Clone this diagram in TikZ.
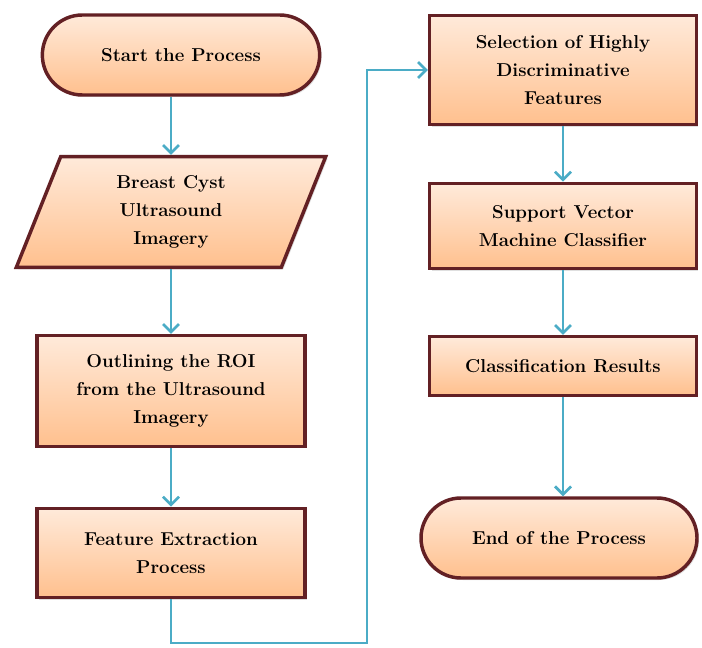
\documentclass[tikz,border=0pt]{standalone}
\usepackage{tikz}
\usetikzlibrary{arrows.meta,positioning,shapes.misc,shapes.geometric,shadows}
\definecolor{boxborder}{RGB}{99,32,36}
\definecolor{peachtop}{RGB}{255,234,218}
\definecolor{peachbot}{RGB}{255,192,142}
\definecolor{flowblue}{RGB}{75,172,198}
\tikzset{
	procbox/.style={draw=boxborder, line width=2.6pt, top color=peachtop, bottom color=peachbot, align=center, inner sep=4pt, font=\bfseries\fontsize{14}{21}\selectfont, drop shadow={opacity=0.25, shadow xshift=1.5pt, shadow yshift=-1.5pt}},
	termbox/.style={procbox, rounded rectangle},
	databox/.style={procbox, trapezium, trapezium left angle=62, trapezium right angle=118, trapezium stretches body},
	arrow/.style={-{Straight Barb[length=6pt, width=12pt]}, draw=flowblue, line width=2pt}
}
\begin{document}
\begin{tikzpicture}[x=0.75pt, y=-0.75pt]
	\useasboundingbox (0,0) rectangle (702,648);
	% left column
	\node[termbox, minimum width=216pt, minimum height=60pt] (start) at (181,55) {Start the Process};
	\node[databox, minimum width=232pt, minimum height=83pt] (cyst) at (171,212) {Breast Cyst\\Ultrasound\\Imagery};
	\node[procbox, minimum width=201pt, minimum height=83pt] (roi) at (171,391) {Outlining the ROI\\from the Ultrasound\\Imagery};
	\node[procbox, minimum width=201pt, minimum height=67pt] (feat) at (171,553) {Feature Extraction\\Process};
	% right column
	\node[procbox, minimum width=200pt, minimum height=82pt] (select) at (563,70) {Selection of Highly\\Discriminative\\Features};
	\node[procbox, minimum width=200pt, minimum height=64pt] (svm) at (563,226) {Support Vector\\Machine Classifier};
	\node[procbox, minimum width=200pt, minimum height=44pt] (result) at (563,366) {Classification Results};
	\node[termbox, minimum width=215pt, minimum height=60pt] (finish) at (559,538) {End of the Process};
	\coordinate (bend) at (367,643);
	
	\draw[arrow] (cyst.north |- start.south) -- (cyst.north);
	\draw[arrow] (cyst.south) -- (roi.north -| cyst.south);
	\draw[arrow] (roi) -- (feat);
	\draw[arrow] (feat.south) |- (bend) |- (select.west);
	\draw[arrow] (select) -- (svm);
	\draw[arrow] (svm) -- (result);
	\draw[arrow] (result.south) -- (finish.north -| result.south);
\end{tikzpicture}
\end{document}
